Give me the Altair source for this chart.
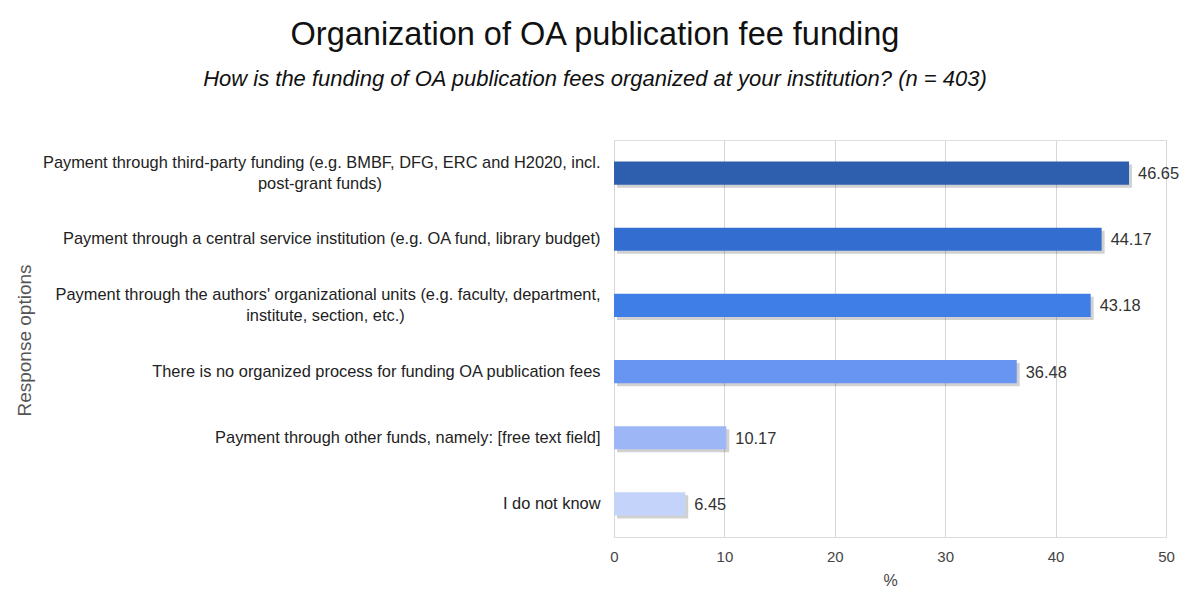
import altair as alt
import pandas as pd

NB = "\u00a0"
END = "\u200b"
categories = [
    "Payment through third-party funding (e.g. BMBF, DFG, ERC and H2020, incl.|post-grant funds)" + NB * 48 + END,
    "Payment through a central service institution (e.g. OA fund, library budget)",
    "Payment through the authors' organizational units (e.g. faculty, department,|institute, section, etc.)" + NB * 43 + END,
    "There is no organized process for funding OA publication fees",
    "Payment through other funds, namely: [free text field]",
    "I do not know",
]
values = [46.65, 44.17, 43.18, 36.48, 10.17, 6.45]
colors = ["#2d5fae", "#346dd0", "#3f7ee6", "#6795f1", "#9db7f6", "#c3d3f9"]
x_ticks = [0, 10, 20, 30, 40, 50]

df = pd.DataFrame({"cat": categories, "val": values, "color": colors,
                   "lab": [f"{v:.2f}" for v in values]})

FONT = "Liberation Sans"

y = alt.Y("cat:N", sort=categories, title="Response options",
          scale=alt.Scale(paddingInner=0.65, paddingOuter=0.325),
          axis=alt.Axis(labelExpr="split(datum.label, '|')", labelFontSize=16.4,
                        labelColor="#222222", labelFont=FONT, labelLimit=800,
                        labelLineHeight=21, labelPadding=14, ticks=False, domain=False,
                        labelOffset={"condition": {"test": "indexof(datum.label, '|') >= 0", "value": -10}, "value": 0},
                        titleFont=FONT, titleFontSize=19, titleFontWeight="normal",
                        titleColor="#555555", titleX=-590, titleY=200, titleAngle=270,
                        titleBaseline="middle", titleAlign="center"))
x = alt.X("val:Q", title="%", scale=alt.Scale(domain=[0, 50]),
          axis=alt.Axis(values=x_ticks, labelFontSize=15, labelColor="#444444",
                        labelFont=FONT, ticks=False, domain=False, gridColor="#d6d6d6",
                        labelFlush=False,
                        labelPadding=12, titleFont=FONT, titleFontSize=16,
                        titleFontWeight="normal", titleColor="#444444", titlePadding=8))

shadow = alt.Chart(df).mark_bar(color="#000000", opacity=0.18, xOffset=3, yOffset=3).encode(x=x, y=y)
bars = alt.Chart(df).mark_bar().encode(x=x, y=y, color=alt.Color("color:N", scale=None))
text = alt.Chart(df).mark_text(align="left", dx=9, dy=1, fontSize=16.4, font=FONT,
                               color="#333333").encode(x=x, y=y, text="lab:N")

chart = (shadow + bars + text).properties(
    width=552, height=397,
    title=alt.TitleParams(
        text="Organization of OA publication fee funding",
        subtitle="How is the funding of OA publication fees organized at your institution? (n = 403)",
        font=FONT, fontSize=32.5, fontWeight="normal", color="#111111",
        subtitleFont=FONT, subtitleFontSize=22, subtitleFontStyle="italic",
        subtitleColor="#111111", subtitlePadding=18, offset=50, dx=-295, anchor="middle"),
    padding={"left": 614, "top": 140, "right": 34, "bottom": 65},
    autosize=alt.AutoSizeParams(type="none"),
).configure_view(stroke=None).configure(background="white")

chart.save("out.html", embed_options={"renderer": "svg", "actions": False})
